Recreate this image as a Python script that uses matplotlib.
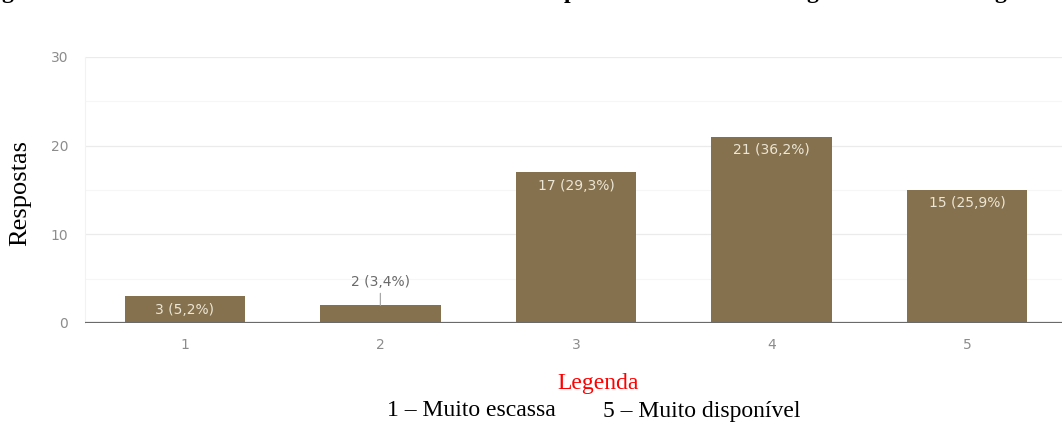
import matplotlib
matplotlib.use("Agg")
import matplotlib.pyplot as plt

categories = ["1", "2", "3", "4", "5"]
counts = [3, 2, 17, 21, 15]
pct_labels = ["3 (5,2%)", "2 (3,4%)", "17 (29,3%)", "21 (36,2%)", "15 (25,9%)"]
yticks = [0, 10, 20, 30]

W, H = 1062, 430
fig = plt.figure(figsize=(W / 100, H / 100), dpi=100)

# axes in pixel coords: left 85, right ~1067, y0 at 323, y30 at 57
left, right = 85, 1067
bottom_px, top_px = 323, 57
ax = fig.add_axes([left / W, 1 - bottom_px / H, (right - left) / W, (bottom_px - top_px) / H])

bar_color = "#85714D"
x = list(range(1, len(categories) + 1))
ax.bar(x, counts, width=0.615, color=bar_color, zorder=3)
ax.set_xlim(0.49, 5.51)
ax.set_ylim(0, 30)

for y in [5, 15, 25]:
    ax.axhline(y, color="#f6f6f6", lw=0.8, zorder=1)
for y in [10, 20, 30]:
    ax.axhline(y, color="#ebebeb", lw=0.9, zorder=1)
ax.axhline(0, color="#6a6a6a", lw=1.6, zorder=4)

for s in ax.spines.values():
    s.set_visible(False)
ax.spines["left"].set_visible(True)
ax.spines["left"].set_color("#f2f2f2")

ax.set_yticks(yticks)
ax.set_yticklabels([str(v) for v in yticks])
ax.set_xticks(x)
ax.set_xticklabels(categories)
ax.tick_params(axis="both", length=0, colors="#8c8c8c", labelsize=10)
ax.tick_params(axis="y", pad=12)
ax.tick_params(axis="x", pad=11)

for xi, c, lab in zip(x, counts, pct_labels):
    if c >= 3:
        ax.text(xi, c - 1.5, lab, ha="center", va="center", color="#ece6d6",
                fontsize=10, zorder=5)
    else:
        ax.annotate(lab, xy=(xi, c), xytext=(xi, c + 2.6), ha="center",
                    va="center", color="#6a6a6a", fontsize=10,
                    arrowprops=dict(arrowstyle="-", color="#a8a8a8", lw=0.9,
                                    shrinkA=1, shrinkB=0), zorder=5)

serif = "Liberation Serif"
fig.text(20 / W, 1 - 193 / H, "Respostas", rotation=90, ha="center", va="center",
         fontsize=19, family=serif, color="black")
fig.text(598 / W, 1 - 383 / H, "Legenda", ha="center", va="center",
         fontsize=17, family=serif, color="#ff0000")
fig.text(387 / W, 1 - 411 / H, "1 – Muito escassa", ha="left", va="center",
         fontsize=17, family=serif, color="black")
fig.text(603 / W, 1 - 411 / H, "5 – Muito disponível", ha="left", va="center",
         fontsize=17, family=serif, color="black")

# cut-off title line descenders at the top
for xp, ch in [(7, "g"), (570, "p"), (812, "g"), (1000, "g")]:
    fig.text(xp / W, 1 + 2 / H, ch, ha="center", va="baseline", fontsize=17,
             family=serif, weight="bold", color="black")

fig.savefig("out.png", dpi=100)
